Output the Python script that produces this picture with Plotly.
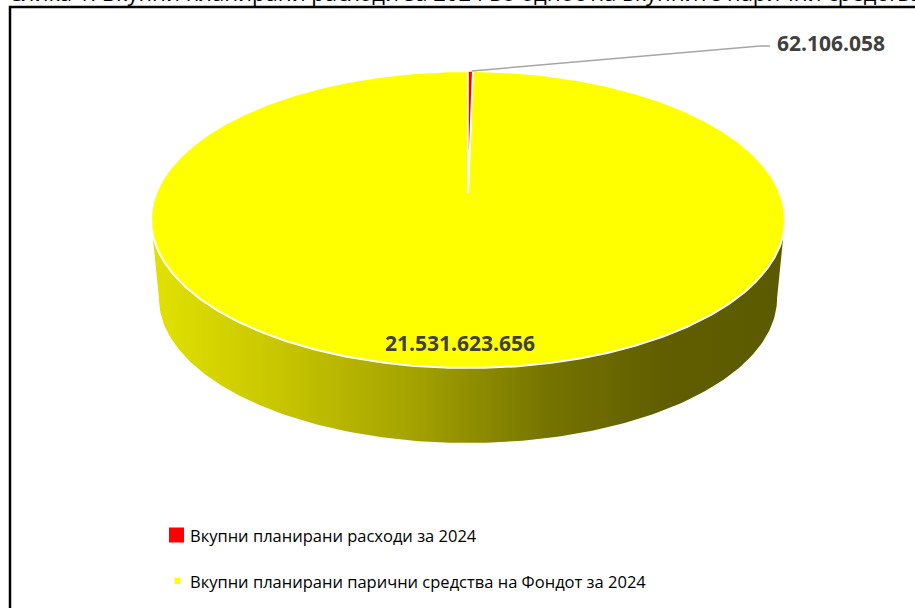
import numpy as np
import plotly.graph_objects as go

# ---------------- data ----------------
labels = ["Вкупни планирани расходи за 2024",
          "Вкупни планирани парични средства на Фондот за 2024"]
values = [62106058, 21531623656]
colors = ["#ff0000", "#ffff00"]
title_text = "Слика 1. Вкупни планирани расходи за 2024 во однос на вкупните парични средства на Фондот"

def fmt(v):
    return f"{v:,}".replace(",", ".")

# ---------------- geometry (pixel space) ----------------
W, H = 915, 608
CX, CY = 468.0, 193.0      # projected centre of the top face
A, B, K = 311.9, 109.3, 0.1785
BOT_S, BOT_DY = 0.975, 84.2

def top(u, v):
    w = 1 - K * v
    return CX + A * u / w, (B * v + CY) / w

def bottom(u, v):
    x, y = top(u, v)
    return CX + BOT_S * (x - CX), BOT_S * y + BOT_DY

def ang_pt(theta_deg, f=top):
    t = np.radians(theta_deg)
    return f(np.sin(t), -np.cos(t))

fig = go.Figure()

# side wall (front half) with horizontal gradient
t_r = np.arcsin(K)
t_l = np.pi - t_r
ts = np.linspace(t_r, t_l, 200)
tx, ty = top(np.cos(ts), np.sin(ts))
bx, by = bottom(np.cos(ts[::-1]), np.sin(ts[::-1]))
sx = np.concatenate([tx, bx, tx[:1]])
sy = np.concatenate([ty, by, ty[:1]])
fig.add_trace(go.Scatter(
    x=sx, y=sy, mode="lines", fill="toself", line=dict(width=0, color="rgba(0,0,0,0)"),
    fillgradient=dict(type="horizontal", start=150, stop=790,
                      colorscale=[[0, "#e2e200"], [0.2, "#c8c600"], [0.4, "#a6a400"],
                                  [0.62, "#767400"], [0.8, "#605e00"], [1, "#5c5a00"]]),
    hoverinfo="skip", showlegend=False))

# top face slices
total = float(sum(values))
start = 0.0
order = [1, 0]  # draw big slice first, small on top
spans = []
for i, v in enumerate(values):
    span = 360.0 * v / total
    spans.append((start, start + span))
    start += span

for i in order:
    a0, a1 = spans[i]
    n = max(4, int((a1 - a0) * 2))
    th = np.linspace(a0, a1, n)
    px, py = ang_pt(th)
    xs = np.concatenate([[CX], px, [CX]])
    ys = np.concatenate([[CY], py, [CY]])
    fig.add_trace(go.Scatter(
        x=xs, y=ys, mode="lines", fill="toself", fillcolor=colors[i],
        line=dict(color="white", width=1.6 if i == 0 else 2),
        hoverinfo="skip", showlegend=False))

# leader line for small slice
lx, ly = ang_pt(spans[0][1] * 0.75)
fig.add_trace(go.Scatter(
    x=[lx, 760, 770], y=[ly, 46, 46], mode="lines",
    line=dict(color="#a6a6a6", width=1.5), hoverinfo="skip", showlegend=False))

label_font = dict(family="Open Sans", size=21, color="#404040")
annotations = [
    dict(x=775, y=43, text="<b>" + fmt(values[0]) + "</b>", xanchor="left", yanchor="middle",
         showarrow=False, font=label_font),
    dict(x=460, y=343, text="<b>" + fmt(values[1]) + "</b>", xanchor="center", yanchor="middle",
         showarrow=False, font=label_font),
    dict(x=6, xref="x", y=1, yref="paper", yshift=8, text=title_text,
         xanchor="left", yanchor="middle", showarrow=False,
         font=dict(family="Open Sans", size=22, color="black")),
]

# legend (manual)
leg_y = [535, 581]
leg_sizes = [15, 6]
leg_x = [176.5, 177.5]
for i in range(len(labels)):
    fig.add_trace(go.Scatter(
        x=[leg_x[i]], y=[leg_y[i]], mode="markers",
        marker=dict(symbol="square", size=leg_sizes[i], color=colors[i], line=dict(width=0)),
        hoverinfo="skip", showlegend=False))
    annotations.append(dict(x=188, y=leg_y[i], text=labels[i], xanchor="left", yanchor="middle",
                            showarrow=False,
                            font=dict(family="Open Sans", size=16.5, color="black")))

fig.update_layout(
    width=W, height=H, autosize=False,
    margin=dict(l=0, r=0, t=0, b=0),
    paper_bgcolor="white", plot_bgcolor="white",
    xaxis=dict(range=[0, W], visible=False, fixedrange=True),
    yaxis=dict(range=[H, 0], visible=False, fixedrange=True),
    annotations=annotations,
    shapes=[dict(type="rect", xref="x", yref="y", x0=10, y0=7, x1=W + 20, y1=H + 20,
                 line=dict(color="black", width=2.5), fillcolor="rgba(0,0,0,0)", layer="above")],
)

fig.write_html("out.html")
